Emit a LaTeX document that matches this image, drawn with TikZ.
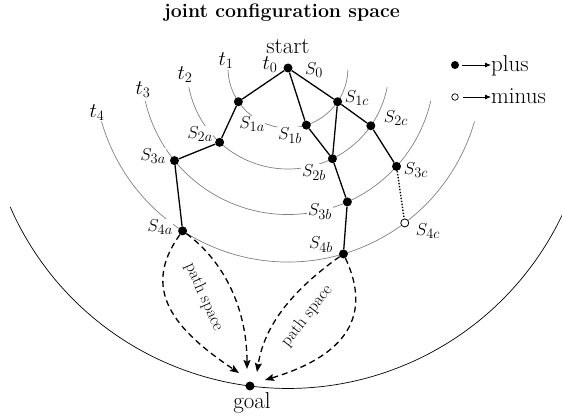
\documentclass[tikz,border=0pt]{standalone}
\usetikzlibrary{calc,arrows.meta}
\begin{document}
\begin{tikzpicture}[x=1pt,y=-1pt,
  arcline/.style={gray, line width=0.7pt},
  bigarc/.style={black, line width=0.7pt},
  pnode/.style={circle, fill=black, inner sep=0pt, minimum size=9pt},
  mnode/.style={circle, draw=black, fill=white, line width=0.8pt, inner sep=0pt, minimum size=8pt},
  edge/.style={line width=1.3pt},
  dashedge/.style={line width=1.3pt, dash pattern=on 6pt off 4pt, -{Stealth[length=9pt,width=7pt,inset=1.5pt]}},
  slabel/.style={fill=white, inner sep=0.6pt, font=\fontsize{19}{22}\selectfont},
  tlabel/.style={inner sep=0pt, font=\fontsize{20}{24}\selectfont},
  bigtext/.style={inner sep=0pt, font=\fontsize{23}{27}\selectfont},
  pathtext/.style={inner sep=0pt, font=\fontsize{17}{20}\selectfont}]
\useasboundingbox (0,0) rectangle (562,420);

% centres of the arcs
\coordinate (C) at (288,68);
\coordinate (G) at (288,85);

% time arcs
\draw[arcline] (C) ++(182:60pt) arc[start angle=182, end angle=358, radius=60pt];
\draw[arcline] (C) ++(191:101pt) arc[start angle=191, end angle=349, radius=101pt];
\draw[arcline] (C) ++(193:146.5pt) arc[start angle=193, end angle=347, radius=146.5pt];
\draw[arcline] (C) ++(196:194pt) arc[start angle=196, end angle=344, radius=194pt];
\draw[bigarc] (G) ++(203.7:303.4pt) arc[start angle=203.7, end angle=337, radius=303.4pt];

% title
\node[anchor=base, inner sep=0pt, font=\fontsize{19.5}{23}\selectfont\bfseries] (title) at (282,18) {joint configuration space};

% states
\node[pnode] (s0) at (C) {};
\node[pnode] (s1a) at ($(C)+(214.2:60pt)$) {};
\node[pnode] (s1b) at ($(C)+(287.8:60pt)$) {};
\node[pnode] (s1c) at ($(C)+(325.8:60pt)$) {};
\node[pnode] (s2a) at ($(C)+(227.4:101pt)$) {};
\node[pnode] (s2b) at ($(C)+(296.1:101pt)$) {};
\node[pnode] (s2c) at ($(C)+(325.1:101pt)$) {};
\node[pnode] (s3a) at ($(C)+(219.2:146.5pt)$) {};
\node[pnode] (s3b) at ($(C)+(293.9:146.5pt)$) {};
\node[pnode] (s3c) at ($(C)+(317.8:146.5pt)$) {};
\node[pnode] (s4a) at ($(C)+(237.1:194pt)$) {};
\node[pnode] (s4b) at ($(C)+(286.6:194pt)$) {};
\node[mnode] (s4c) at ($(C)+(307:194pt)$) {};
\node[pnode] (goal) at ($(G)+(262.8:303.4pt)$) {};

% edges
\draw[edge] (s0) -- (s1a);
\draw[edge] (s0) -- (s1b);
\draw[edge] (s0) -- (s1c);
\draw[edge] (s1a) -- (s2a);
\draw[edge] (s2a) -- (s3a);
\draw[edge] (s3a) -- (s4a);
\draw[edge] (s1b) -- (s2b);
\draw[edge] (s1c) -- (s2b);
\draw[edge] (s1c) -- (s2c);
\draw[edge] (s2b) -- (s3b);
\draw[edge] (s3b) -- (s4b);
\draw[edge] (s2c) -- (s3c);
\draw[line width=1.4pt, dash pattern=on 1.4pt off 1.6pt] (s3c) -- (s4c);

% labels
\node[slabel] (l0) at (314,70) {$S_0$};
\node[slabel] (l1a) at (252,124) {$S_{1a}$};
\node[slabel] (l1b) at (290,136) {$S_{1b}$};
\node[slabel] (l1c) at (357,98) {$S_{1c}$};
\node[slabel] (l2a) at (200,134) {$S_{2a}$};
\node[slabel] (l2b) at (314,173) {$S_{2b}$};
\node[slabel] (l2c) at (396,118) {$S_{2c}$};
\node[slabel] (l3a) at (153,156) {$S_{3a}$};
\node[slabel] (l3b) at (320,212) {$S_{3b}$};
\node[slabel] (l3c) at (416,170) {$S_{3c}$};
\node[slabel] (l4a) at (160,227) {$S_{4a}$};
\node[slabel] (l4b) at (321,245) {$S_{4b}$};
\node[slabel] (l4c) at (428,231) {$S_{4c}$};

\node[tlabel] (t0) at (270,65) {$t_0$};
\node[tlabel] (t1) at (226,61) {$t_1$};
\node[tlabel] (t2) at (185,75) {$t_2$};
\node[tlabel] (t3) at (143,90) {$t_3$};
\node[tlabel] (t4) at (97,113) {$t_4$};

\node[bigtext, anchor=base] (start) at (288,53) {start};
\node[bigtext, anchor=base] (goaltext) at (252,408) {goal};

% path space arrows
\coordinate (ea) at (239,373);
\coordinate (eb) at (247,369);
\coordinate (ec) at (257,372);
\coordinate (ed) at (265,380);
\draw[dashedge] (s4a) .. controls (140,290) and (175,330) .. (ea);
\draw[dashedge] (s4a) .. controls (225,262) and (247,310) .. (eb);
\draw[dashedge] (s4b) .. controls (300,285) and (265,320) .. (ec);
\draw[dashedge] (s4b) .. controls (365,300) and (365,350) .. (ed);
\node[pathtext, rotate=-66] (ps1) at (204,297) {path space};
\node[pathtext, rotate=52] (ps2) at (307,316) {path space};

% legend
\node[circle, fill=black, inner sep=0pt, minimum size=8pt] (ldot) at (455,65) {};
\node[circle, draw=black, fill=white, line width=0.7pt, inner sep=0pt, minimum size=6.5pt] (lcirc) at (455,97) {};
\node[bigtext, anchor=base west] (lplus) at (491,71) {plus};
\node[bigtext, anchor=base west] (lminus) at (491,103) {minus};
\draw[line width=0.8pt, -{Latex[length=6pt,width=5pt]}, shorten <=3pt] (ldot.east) -- (lplus.west |- ldot.east);
\draw[line width=0.8pt, -{Latex[length=6pt,width=5pt]}, shorten <=4pt] (lcirc.east) -- (lminus.west |- lcirc.east);
\end{tikzpicture}
\end{document}
